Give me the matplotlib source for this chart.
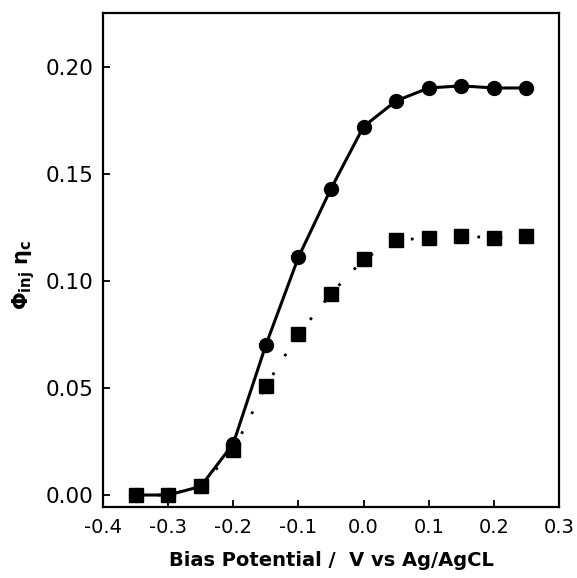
import numpy as np
import matplotlib
matplotlib.use('Agg')
import matplotlib.pyplot as plt

plt.rcParams['font.family'] = ['DejaVu Sans']
plt.rcParams['mathtext.fontset'] = 'dejavusans'

bias = [-0.35, -0.30, -0.25, -0.20, -0.15, -0.10, -0.05, 0.00, 0.05, 0.10, 0.15, 0.20, 0.25]
circles = [0.000, 0.000, 0.004, 0.024, 0.070, 0.111, 0.143, 0.172, 0.184, 0.190, 0.191, 0.190, 0.190]
squares = [0.000, 0.000, 0.004, 0.021, 0.051, 0.075, 0.094, 0.110, 0.119, 0.120, 0.121, 0.120, 0.121]

xticks = [-0.4, -0.3, -0.2, -0.1, 0.0, 0.1, 0.2, 0.3]
yticks = [0.00, 0.05, 0.10, 0.15, 0.20]

fig = plt.figure(figsize=(5.77, 5.78), dpi=100)
ax = fig.add_axes([0.1785, 0.1228, 0.7903, 0.8547])

ax.plot(bias, circles, color='black', lw=2.2, marker='o', ms=10, zorder=3)
ax.plot(bias, squares, color='black', lw=2.0, linestyle=(0, (1, 7)),
        marker='s', ms=10, zorder=2)

ax.set_xlim(-0.4, 0.3)
ax.set_ylim(-0.0056, 0.225)
ax.set_xticks(xticks)
ax.set_xticklabels(['%.1f' % t for t in xticks])
ax.set_yticks(yticks)
ax.set_yticklabels(['%.2f' % t for t in yticks])
ax.tick_params(direction='in', length=5, width=1.3, pad=7)
ax.tick_params(axis='x', labelsize=14, pad=8)
ax.tick_params(axis='y', labelsize=15.5)

for s in ax.spines.values():
    s.set_linewidth(1.6)

ax.set_xlabel('Bias Potential /  V vs Ag/AgCL', fontsize=14, fontweight='bold', labelpad=10)
ax.set_ylabel(r'$\mathbf{\Phi_{inj}\ \eta_c}$', fontsize=15)
ax.yaxis.set_label_coords(-0.145, 0.47)

fig.savefig('out.png', dpi=100)
